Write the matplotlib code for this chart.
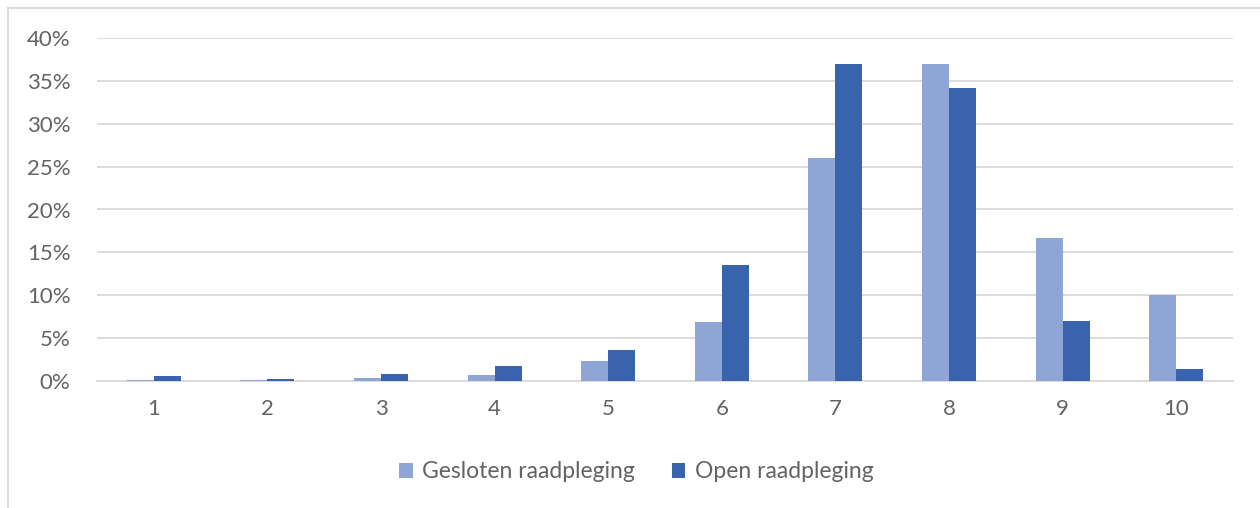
import matplotlib
matplotlib.use('Agg')
import matplotlib.pyplot as plt
import numpy as np
from matplotlib.lines import Line2D
from matplotlib.ticker import PercentFormatter

# data
categories = ['1', '2', '3', '4', '5', '6', '7', '8', '9', '10']
gesloten = [0.1, 0.1, 0.35, 0.75, 2.3, 6.9, 26.0, 37.0, 16.7, 10.0]
open_r = [0.55, 0.25, 0.85, 1.7, 3.6, 13.5, 37.0, 34.2, 7.0, 1.4]
labels = ['Gesloten raadpleging', 'Open raadpleging']

c_ges = '#8FA5D5'
c_open = '#3A63AD'
txt = '#636363'

plt.rcParams['font.family'] = ['Lato', 'DejaVu Sans']

fig = plt.figure(figsize=(12.6, 5.08), dpi=100)
ax = fig.add_axes([97 / 1260, 1 - 381 / 508, 1136 / 1260, 343 / 508])

x = np.arange(len(categories))
w = 0.238
ax.bar(x - w / 2, gesloten, w, color=c_ges, label=labels[0], zorder=3)
ax.bar(x + w / 2, open_r, w, color=c_open, label=labels[1], zorder=3)

ax.set_xlim(-0.5, len(categories) - 0.5)
ax.set_ylim(0, 40)
ax.set_yticks(range(0, 41, 5))
ax.yaxis.set_major_formatter(PercentFormatter(decimals=0))
ax.set_xticks(x)
ax.set_xticklabels(categories)
ax.grid(axis='y', color='#d9d9d9', linewidth=1.3, zorder=0)
for s in ['top', 'right', 'left']:
    ax.spines[s].set_visible(False)
ax.spines['bottom'].set_color('#d9d9d9')
ax.spines['bottom'].set_linewidth(1.3)
ax.tick_params(axis='both', length=0, labelsize=16, labelcolor=txt)
ax.tick_params(axis='y', pad=19)
ax.tick_params(axis='x', pad=13)

ax.legend(loc='center', bbox_to_anchor=(0.505, (508 - 472) / 508), bbox_transform=fig.transFigure,
          ncol=2, frameon=False, fontsize=16.5, labelcolor=txt, handlelength=0.6,
          handleheight=0.6, handletextpad=0.4, columnspacing=1.6)

# outer frame (left and top visible)
fig.add_artist(Line2D([8 / 1260, 8 / 1260], [0, 1 - 8 / 508], transform=fig.transFigure,
                      color='#d9d9d9', linewidth=1.3))
fig.add_artist(Line2D([8 / 1260, 1], [1 - 8 / 508, 1 - 8 / 508], transform=fig.transFigure,
                      color='#d9d9d9', linewidth=1.3))

fig.savefig('out.png', dpi=100)
